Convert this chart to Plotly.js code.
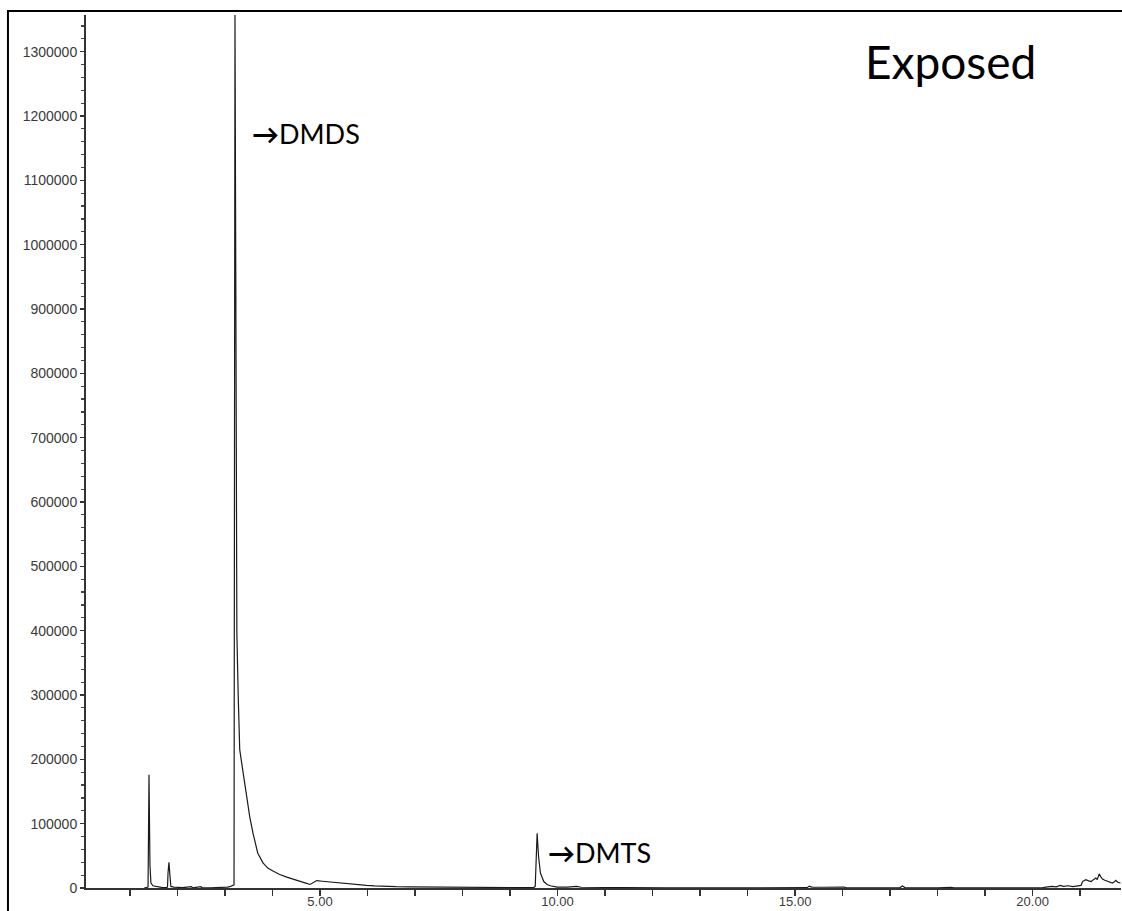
<!DOCTYPE html>
<html>
<head>
<meta charset="utf-8">
<script src="https://cdn.plot.ly/plotly-3.0.1.min.js"></script>
<style>
  html, body { margin: 0; padding: 0; background: #fff; }
  #chart { width: 1122px; height: 911px; }
</style>
</head>
<body>
<div id="chart"></div>
<script>
// Total ion chromatogram: retention time (min) vs abundance
const retentionTime = [
  1.30, 1.36, 1.38, 1.39, 1.40, 1.42, 1.44, 1.48, 1.56, 1.66, 1.76,
  1.79, 1.80, 1.82, 1.84, 1.86, 1.92, 2.00, 2.10, 2.29, 2.32, 2.49, 2.52,
  2.70, 2.90, 3.05, 3.10, 3.17, 3.19,
  3.21, 3.23, 3.25, 3.28, 3.31, 3.35, 3.38, 3.45, 3.52, 3.59, 3.69, 3.80,
  3.90, 4.02, 4.15, 4.30, 4.45, 4.58, 4.70, 4.79, 4.86, 4.93, 5.05, 5.27,
  5.45, 5.63, 5.80, 5.98, 6.15, 6.33, 6.60, 6.90, 7.20, 7.50, 7.80, 8.10,
  8.40, 8.70, 9.00, 9.30, 9.50, 9.53, 9.55, 9.57, 9.60, 9.64, 9.71, 9.78,
  9.85, 9.92, 9.99, 10.20, 10.40, 10.50, 10.80, 11.00, 11.30, 11.80, 12.30,
  13.00, 14.00, 15.00, 15.25, 15.30, 15.35, 15.60, 15.90, 16.03, 16.08,
  16.50, 17.20, 17.26, 17.32, 18.00, 18.28, 18.35, 19.00, 19.55, 19.70,
  19.82, 19.90, 20.20, 20.28, 20.40, 20.50, 20.58, 20.65, 20.75, 20.85,
  20.95, 21.02, 21.05, 21.12, 21.18, 21.23, 21.28, 21.33, 21.36, 21.40,
  21.44, 21.47, 21.52, 21.58, 21.68, 21.72, 21.75, 21.79, 21.85
];
const abundance = [
  0, 500, 1500, 86000, 176000, 36000, 8000, 3500, 2000, 1000, 800,
  1500, 23000, 40000, 20000, 2500, 1500, 800, 500, 2000, 300, 2000, 300,
  200, 300, 1500, 2000, 4000, 5000,
  1357000, 951000, 395000, 293000, 215000, 195000, 180000, 148000, 111000, 85000, 54000, 39000,
  31000, 26000, 21000, 17000, 13000, 10000, 7500, 5500, 9000, 11500, 10500, 8700,
  7300, 6200, 5000, 4000, 3200, 2500, 2000, 1800, 1500, 1300, 1200, 1000,
  900, 800, 700, 600, 800, 2500, 54000, 85000, 49000, 23000, 10000, 5500,
  3500, 2300, 1500, 1400, 2500, 1200, 900, 700, 600, 300, 200,
  100, 100, 100, 500, 3000, 1500, 1200, 1200, 1500, 200,
  100, 200, 3000, 200, 100, 1200, 100, 100, 1000, 1200,
  1000, 100, 300, 1500, 2500, 1800, 4000, 2500, 3500, 2000,
  3000, 4000, 10000, 13000, 11000, 10000, 13000, 15500, 13000, 22000,
  17000, 14000, 12000, 10000, 7800, 9500, 12000, 9000, 7800
];

// Peak labels
const peakNames = ['DMDS', 'DMTS'];
const peakLabelX = [3.53, 9.76];
const peakLabelY = [1173000, 55000];

const sampleTitle = 'Exposed';

const labelFont = { family: 'Lato, "Open Sans", sans-serif', size: 27, color: '#000' };
const yTickFont = { family: '"Liberation Sans", Arial, sans-serif', size: 14, color: '#3a3a3a' };
const xTickFont = { family: '"Liberation Sans", Arial, sans-serif', size: 13, color: '#3a3a3a' };

const trace = {
  x: retentionTime,
  y: abundance,
  type: 'scatter',
  mode: 'lines',
  line: { color: '#1a1a1a', width: 1.2 },
  hoverinfo: 'skip',
  showlegend: false
};

// Each peak name is preceded by a heavy arrow
const annotations = peakNames.map((name, i) => ({
  x: peakLabelX[i], y: peakLabelY[i], xref: 'x', yref: 'y',
  text: '<b>\u2192</b>' + name, showarrow: false, xanchor: 'left', yanchor: 'middle',
  font: labelFont
}));
annotations.push({
  x: 16.43, y: 1285000, xref: 'x', yref: 'y',
  text: sampleTitle, showarrow: false, xanchor: 'left', yanchor: 'middle',
  font: { family: 'Lato, "Open Sans", sans-serif', size: 46, color: '#000' }
});

const layout = {
  width: 1122, height: 911,
  margin: { l: 86, r: 1, t: 15, b: 23, pad: 0 },
  paper_bgcolor: '#fff', plot_bgcolor: '#fff',
  xaxis: {
    range: [0.074, 21.86], autorange: false,
    tick0: 0, dtick: 5, tickformat: '.2f',
    ticks: 'outside', ticklen: 6, tickwidth: 1.5, tickcolor: '#333',
    ticklabelstandoff: -6,
    minor: { dtick: 1, ticks: 'outside', ticklen: 6, tickwidth: 1.5, tickcolor: '#333' },
    showline: true, linecolor: '#333', linewidth: 2,
    showgrid: false, zeroline: false, tickfont: xTickFont
  },
  yaxis: {
    range: [0, 1357000], autorange: false,
    tick0: 0, dtick: 100000, tickformat: 'd',
    ticks: 'outside', ticklen: 4, tickwidth: 1.5, tickcolor: '#333',
    minor: { dtick: 20000, ticks: 'outside', ticklen: 3, tickwidth: 1.2, tickcolor: '#444' },
    showline: true, linecolor: '#333', linewidth: 2,
    showgrid: false, zeroline: false, tickfont: yTickFont
  },
  shapes: [{
    type: 'path', xref: 'paper', yref: 'paper',
    path: 'M -0.0754,-0.2 L -0.0754,1.0046 L 1.05,1.0046',
    line: { color: '#000', width: 2 }
  }],
  annotations: annotations
};

Plotly.newPlot('chart', [trace], layout, { staticPlot: true, displayModeBar: false });
</script>
</body>
</html>
